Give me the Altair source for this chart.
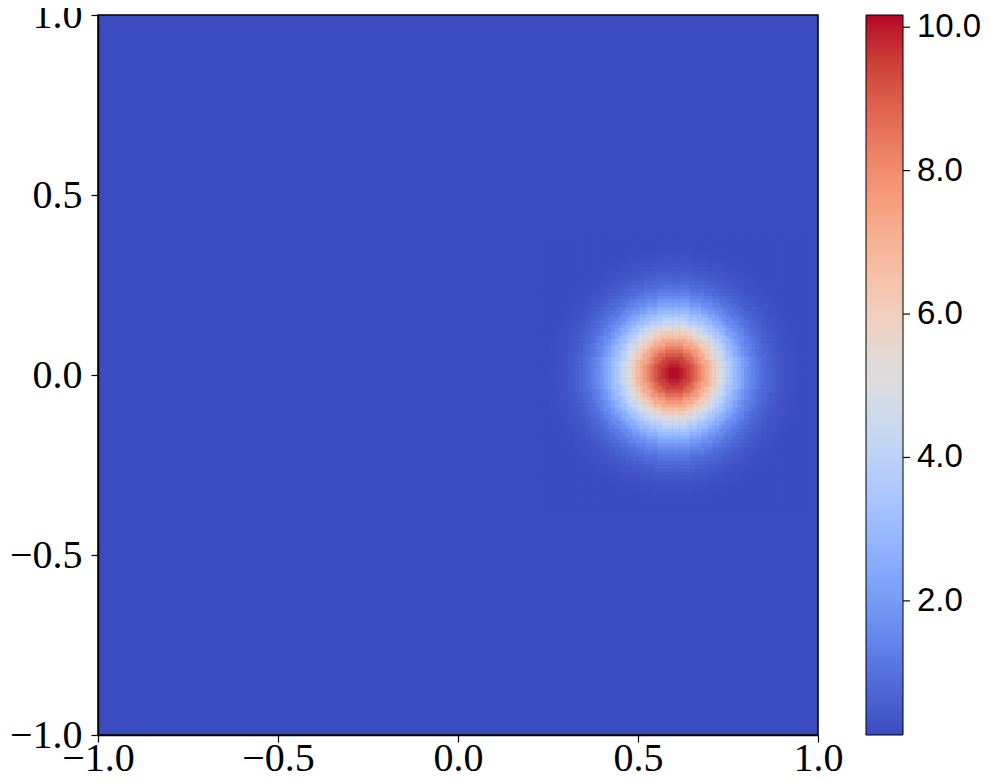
import numpy as np
import pandas as pd
import altair as alt

# ---- data ----
# radial profile of the bump, value at distance k*0.01 from its centre
RING_STEP = 0.01
PROFILE = [10.12, 10.08, 9.96, 9.75, 9.47, 9.11, 8.70, 8.23, 7.73, 7.19,
           6.64, 6.08, 5.52, 4.97, 4.44, 3.94, 3.46, 3.02, 2.62, 2.25,
           1.93, 1.64, 1.38, 1.16, 0.97, 0.81, 0.68, 0.57, 0.48, 0.40,
           0.34, 0.29, 0.25, 0.21, 0.18, 0.16, 0.14]
BASE_VALUE = 0.13
CENTER_X = 0.60
CENTER_Y = 0.005
VMIN, VMAX = 0.13, 10.17

X_TICKS = [-1.0, -0.5, 0.0, 0.5, 1.0]
Y_TICKS = [-1.0, -0.5, 0.0, 0.5, 1.0]
CBAR_TICKS = [2.0, 4.0, 6.0, 8.0, 10.0]

# coolwarm colour stops
COOLWARM = ["#3b4cc0", "#445acc", "#4d68d7", "#5775e1", "#6282ea", "#6c8ef1",
            "#779af7", "#82a5fb", "#8db0fe", "#98b9ff", "#a3c2ff", "#aec9fd",
            "#b8d0f9", "#c2d5f4", "#ccd9ee", "#d5dbe6", "#dddddd", "#e5d8d1",
            "#ecd3c5", "#f1ccb9", "#f5c4ad", "#f7bba0", "#f7b194", "#f7a687",
            "#f49a7b", "#f18d6f", "#ec7f63", "#e57058", "#de604d", "#d55042",
            "#cb3e38", "#c0282f", "#b40426"]

# ---- build cell table ----
half = RING_STEP / 2
grow = RING_STEP * 0.12  # slight overlap so no seams show between cells
n = len(PROFILE)
reach = n * RING_STEP
xs = np.round(np.arange(CENTER_X - reach, CENTER_X + reach + 1e-9, RING_STEP), 4)
ys = np.round(np.arange(CENTER_Y - reach, CENTER_Y + reach + 1e-9, RING_STEP), 4)
rows = []
for cx in xs:
    for cy in ys:
        r = np.hypot(cx - CENTER_X, cy - CENTER_Y)
        k = int(round(r / RING_STEP))
        v = PROFILE[k] if k < n else BASE_VALUE
        rows.append({"x0": cx - half, "x1": cx + half + grow,
                     "y0": cy - half, "y1": cy + half + grow,
                     "v": v})
df = pd.DataFrame(rows)
ticks_df = pd.DataFrame({"t": CBAR_TICKS})

cscale = alt.Scale(type="linear", domain=[VMIN, VMAX], range=COOLWARM,
                   interpolate="rgb", clamp=True)

axis_common = dict(
    labelFont="Liberation Serif", labelFontSize=40, labelColor="black",
    tickColor="black", tickSize=7, tickWidth=1.2,
    domainColor="black", domainWidth=1.5, grid=False,
    labelOverlap=False, labelFlush=False, format=".1f", title=None,
)

heat = alt.Chart(df).mark_rect().encode(
    x=alt.X("x0:Q", scale=alt.Scale(domain=[-1, 1], nice=False, zero=False),
            axis=alt.Axis(values=X_TICKS, labelPadding=-4, **axis_common)),
    x2="x1:Q",
    y=alt.Y("y0:Q", scale=alt.Scale(domain=[-1, 1], nice=False, zero=False),
            axis=alt.Axis(values=Y_TICKS, labelPadding=9, **axis_common)),
    y2="y1:Q",
    color=alt.Color("v:Q", scale=cscale, legend=alt.Legend(
        type="gradient",
        orient="none", legendX=768, legendY=0, direction="vertical",
        gradientLength=720, gradientThickness=37,
        gradientStrokeColor="black", gradientStrokeWidth=1,
        labelFont="Liberation Sans", labelFontSize=33, labelColor="black",
        labelOffset=14, labelOverlap=False, labelLimit=300,
        values=CBAR_TICKS, format=".1f", title=None)),
)

# small tick marks on the right side of the colour bar
cbar_ticks = alt.Chart(ticks_df).mark_rule(color="black", strokeWidth=1.2).encode(
    y=alt.Y("t:Q", scale=alt.Scale(domain=[VMIN, VMAX], nice=False, zero=False),
            axis=None),
    x=alt.value(805),
    x2=alt.value(812),
)

chart = alt.layer(heat, cbar_ticks).resolve_scale(y="independent").properties(
    width=720, height=720,
    background="white",
    autosize=alt.AutoSizeParams(type="none"),
    padding={"left": 90, "top": 7, "right": 164, "bottom": 39},
).configure_view(
    stroke="black", strokeWidth=1.5, fill="#3b4cc0"
)

chart.save("out.html", embed_options={"renderer": "svg", "actions": False})
